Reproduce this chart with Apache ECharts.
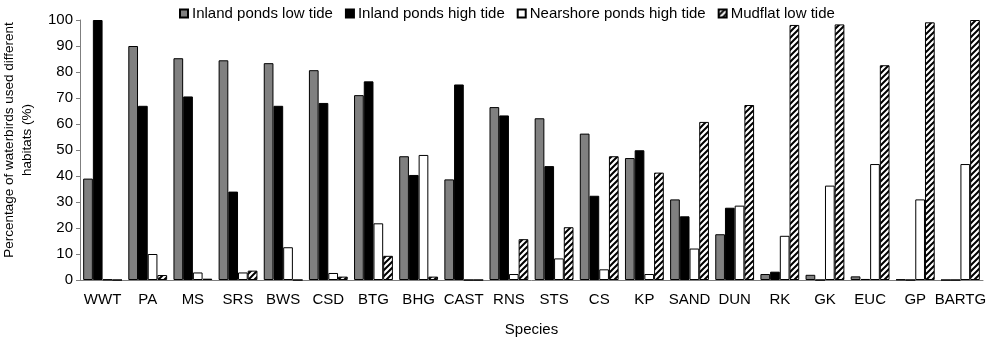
<!DOCTYPE html>
<html><head><meta charset="utf-8">
<script src="https://cdn.jsdelivr.net/npm/echarts@6/dist/echarts.min.js"></script>
<style>html,body{margin:0;padding:0;background:#fff}#c{width:990px;height:342px}</style>
</head><body><div id="c"></div>
<script>
const categories = ['WWT','PA','MS','SRS','BWS','CSD','BTG','BHG','CAST','RNS','STS','CS','KP','SAND','DUN','RK','GK','EUC','GP','BARTG'];
const seriesNames = ['Inland ponds low tide','Inland ponds high tide','Nearshore ponds high tide','Mudflat low tide'];
const inlandLow  = [39, 90, 85.3, 84.5, 83.4, 80.7, 71.1, 47.6, 38.7, 66.5, 62.2, 56.3, 46.9, 31.0, 17.6, 2.3, 2.0, 1.4, 0.2, 0];
const inlandHigh = [100, 67.0, 70.6, 34.0, 67.0, 68.1, 76.4, 40.4, 75.2, 63.3, 43.8, 32.4, 49.9, 24.5, 27.8, 3.2, 0, 0.4, 0, 0];
const nearHigh   = [0.2, 10.0, 2.9, 2.9, 12.6, 2.7, 21.8, 48.1, 0, 2.3, 8.3, 4.1, 2.3, 12.1, 28.6, 17.0, 36.3, 44.6, 31.0, 44.6];
const mudLow     = [0, 1.9, 0.5, 3.6, 0, 1.3, 9.3, 1.3, 0, 15.7, 20.3, 47.6, 41.3, 60.8, 67.3, 98.1, 98.3, 82.6, 99.1, 100];
const yTicks = [0,10,20,30,40,50,60,70,80,90,100];
const yTitle = 'Percentage of waterbirds used different\nhabitats (%)';
const xTitle = 'Species';

function hatch(){
  const s = 6, cv = document.createElement('canvas');
  cv.width = s; cv.height = s;
  const g = cv.getContext('2d');
  g.fillStyle = '#fff'; g.fillRect(0,0,s,s);
  g.strokeStyle = '#000'; g.lineWidth = 2;
  g.beginPath();
  g.moveTo(-1, s+1); g.lineTo(s+1, -1);
  g.moveTo(-2, 2); g.lineTo(2, -2);
  g.moveTo(s-2, s+2); g.lineTo(s+2, s-2);
  g.stroke();
  return cv;
}
const FONT = 'Liberation Sans';
const chart = echarts.init(document.getElementById('c'), null, {renderer:'canvas'});
const fills = ['#808080', '#000000', '#ffffff', {image: hatch(), repeat: 'repeat'}];
const data = [inlandLow, inlandHigh, nearHigh, mudLow];
chart.setOption({
  animation: false,
  textStyle: {fontFamily: FONT, color: '#000'},
  legend: {
    top: 1, left: 174,
    itemWidth: 8, itemHeight: 8, itemGap: 12,
    icon: 'rect',
    textStyle: {fontFamily: FONT, fontSize: 15, color: '#000', padding: [0,0,0,-1]},
    data: seriesNames
  },
  graphic: [{
    type: 'text', x: 18, y: 140, rotation: Math.PI / 2,
    style: {text: yTitle, fontFamily: FONT, fontSize: 13.5, lineHeight: 18,
      fill: '#000', align: 'center', verticalAlign: 'middle'}
  }],
  grid: {left: 80, right: 7, top: 20, bottom: 61, containLabel: false},
  xAxis: {
    type: 'category', data: categories,
    name: xTitle, nameLocation: 'middle', nameGap: 42,
    nameTextStyle: {fontSize: 15, color: '#000', fontFamily: FONT},
    axisLine: {lineStyle: {color: '#7f7f7f', width: 1}},
    axisTick: {show: false},
    axisLabel: {fontSize: 15, color: '#000', margin: 12, interval: 0, fontFamily: FONT}
  },
  yAxis: {
    type: 'value', min: 0, max: 100, interval: 10,
    axisLine: {show: true, lineStyle: {color: '#7f7f7f', width: 1}},
    axisTick: {show: true, length: 4, lineStyle: {color: '#7f7f7f'}},
    splitLine: {show: false},
    axisLabel: {fontSize: 15, color: '#000', margin: 7, fontFamily: FONT,
      formatter: v => yTicks.includes(v) ? String(v) : ''}
  },
  series: seriesNames.map((n, i) => ({
    name: n, type: 'bar', data: data[i],
    barGap: '0%', barCategoryGap: '14%',
    itemStyle: {color: fills[i], borderColor: '#000', borderWidth: 1},
    emphasis: {disabled: true}
  }))
});
</script></body></html>
